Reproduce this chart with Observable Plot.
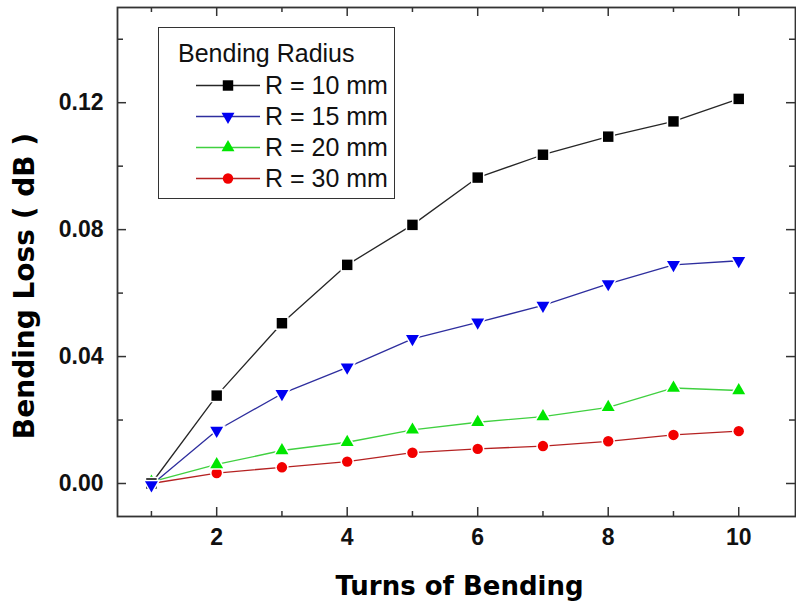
<!DOCTYPE html>
<html>
<head>
<meta charset="utf-8">
<script src="https://cdn.jsdelivr.net/npm/d3@7"></script>
<script src="https://cdn.jsdelivr.net/npm/@observablehq/plot@0.6"></script>
<style>
  html, body { margin: 0; padding: 0; background: #fff; }
  #wrap { position: relative; width: 796px; height: 606px; overflow: hidden; }
  #legend { position: absolute; left: 158px; top: 27px; width: 235px; height: 170px;
            border: 1.5px solid #333; background: #fff; font-family: "Liberation Sans", Arial, sans-serif; }
  #legend .title { position: absolute; left: 19px; top: 13px; font-size: 25px; line-height: 25px; color: #111; white-space: nowrap; }
  #legend .row { position: absolute; left: 37px; height: 31px; display: flex; align-items: center; white-space: nowrap; }
  #legend .row span { font-size: 25px; line-height: 25px; color: #111; margin-left: 5px; }
</style>
</head>
<body>
<div id="wrap"></div>
<script>
// ---- data ----
const turns = [1, 2, 3, 4, 5, 6, 7, 8, 9, 10];
const lossR10 = [0.0000, 0.0277, 0.0505, 0.0689, 0.0815, 0.0964, 0.1036, 0.1093, 0.1141, 0.1212];
const lossR15 = [-0.0005, 0.0167, 0.0283, 0.0366, 0.0456, 0.0508, 0.0561, 0.0629, 0.0689, 0.0702];
const lossR20 = [0.0005, 0.0060, 0.0104, 0.0130, 0.0169, 0.0193, 0.0211, 0.0240, 0.0301, 0.0293];
const lossR30 = [0.0000, 0.0033, 0.0051, 0.0069, 0.0097, 0.0109, 0.0118, 0.0133, 0.0153, 0.0165];
const seriesLabels = ["R = 10 mm", "R = 15 mm", "R = 20 mm", "R = 30 mm"];
const legendTitle = "Bending Radius";
const xMajorTicks = [2, 4, 6, 8, 10];
const xMinorTicks = [1, 3, 5, 7, 9];
const yMajorTicks = [0, 0.04, 0.08, 0.12];
const yMinorTicks = [0.02, 0.06, 0.10, 0.14];
const xLabel = "Turns of Bending";
const yLabel = "Bending Loss ( dB )";

// ---- styling ----
const lineColors = ["#262626", "#2e2e9e", "#40d040", "#b52222"];
const markerColors = ["#000000", "#0000f2", "#00e600", "#f20000"];
const markerSymbols = ["square", "triangle", "triangle", "circle"];
const markerRotate = [0, 180, 0, 0];
const markerR = [5.9, 4.8, 4.8, 5.2];
const markerDrawOrder = [3, 2, 0, 1];

const allSeries = [lossR10, lossR15, lossR20, lossR30];
const rows = allSeries.flatMap((vals, i) =>
  vals.map((v, j) => ({turns: turns[j], loss: v, series: seriesLabels[i]})));

const W = 796, H = 606;
const mL = 117, mR = 1, mT = 7, mB = 90;
const innerH = H - mT - mB;
const innerW = W - mL - mR;

const marks = [];
// series lines
seriesLabels.forEach((s, i) => {
  marks.push(Plot.line(rows.filter(d => d.series === s), {
    x: "turns", y: "loss", stroke: lineColors[i], strokeWidth: 1.3
  }));
});
// series markers
markerDrawOrder.forEach(i => {
  const s = seriesLabels[i];
  marks.push(Plot.dot(rows.filter(d => d.series === s), {
    x: "turns", y: "loss", symbol: markerSymbols[i], r: markerR[i],
    rotate: markerRotate[i], fill: markerColors[i],
    stroke: "white", strokeWidth: 3, paintOrder: "stroke"
  }));
});
// inward ticks (bottom, top, left, right)
marks.push(Plot.tickX(xMajorTicks, {x: d => d, stroke: "#333", strokeWidth: 1.5, insetTop: innerH - 9}));
marks.push(Plot.tickX(xMinorTicks, {x: d => d, stroke: "#333", strokeWidth: 1.5, insetTop: innerH - 5}));
marks.push(Plot.tickX(xMajorTicks, {x: d => d, stroke: "#333", strokeWidth: 1.5, insetBottom: innerH - 9}));
marks.push(Plot.tickX(xMinorTicks, {x: d => d, stroke: "#333", strokeWidth: 1.5, insetBottom: innerH - 5}));
marks.push(Plot.tickY(yMajorTicks, {y: d => d, stroke: "#333", strokeWidth: 1.5, insetRight: innerW - 9}));
marks.push(Plot.tickY(yMinorTicks, {y: d => d, stroke: "#333", strokeWidth: 1.5, insetRight: innerW - 6}));
marks.push(Plot.tickY(yMajorTicks, {y: d => d, stroke: "#333", strokeWidth: 1.5, insetLeft: innerW - 9}));
marks.push(Plot.tickY(yMinorTicks, {y: d => d, stroke: "#333", strokeWidth: 1.5, insetLeft: innerW - 6}));
// frame
marks.push(Plot.frame({stroke: "#333", strokeWidth: 1.8}));
// tick labels
marks.push(Plot.axisX({ticks: xMajorTicks, tickSize: 0, tickPadding: 12, label: null,
  fontSize: 23, fontWeight: "bold", fontFamily: "Liberation Sans, Arial, sans-serif", fill: "#111"}));
marks.push(Plot.axisY({ticks: yMajorTicks, tickSize: 0, tickPadding: 14, label: null,
  tickFormat: d3.format(".2f"),
  fontSize: 23, fontWeight: "bold", fontFamily: "Liberation Sans, Arial, sans-serif", fill: "#111"}));
// axis titles
marks.push(Plot.text([xLabel], {frameAnchor: "bottom", dx: 3, dy: 70, lineAnchor: "middle", textAnchor: "middle",
  fontSize: 26, fontWeight: "bold", fontFamily: "DejaVu Sans, sans-serif", fill: "#000"}));
marks.push(Plot.text([yLabel], {frameAnchor: "left", rotate: -90, dx: -92, dy: 24, lineAnchor: "middle", textAnchor: "middle",
  fontSize: 28, fontWeight: "bold", fontFamily: "DejaVu Sans, sans-serif", fill: "#000"}));

const chart = Plot.plot({
  width: W, height: H,
  marginLeft: mL, marginRight: mR, marginTop: mT, marginBottom: mB,
  x: {domain: [0.48, 10.87], axis: null},
  y: {domain: [-0.0104, 0.15], axis: null},
  style: {background: "white", overflow: "visible"},
  marks
});

const wrap = document.getElementById("wrap");
wrap.appendChild(chart);

// ---- legend (HTML overlay) ----
const legend = document.createElement("div");
legend.id = "legend";
const title = document.createElement("div");
title.className = "title";
title.textContent = legendTitle;
legend.appendChild(title);
const symMap = {square: d3.symbolSquare, triangle: d3.symbolTriangle, circle: d3.symbolCircle};
seriesLabels.forEach((s, i) => {
  const row = document.createElement("div");
  row.className = "row";
  row.style.top = (41.5 + i * 31) + "px";
  const svg = d3.create("svg").attr("width", 64).attr("height", 31);
  svg.append("line").attr("x1", 0).attr("x2", 64).attr("y1", 15.5).attr("y2", 15.5)
    .attr("stroke", lineColors[i]).attr("stroke-width", 1.3);
  svg.append("path")
    .attr("d", d3.symbol(symMap[markerSymbols[i]], markerR[i] * markerR[i] * Math.PI)())
    .attr("transform", `translate(32,15.5) rotate(${markerRotate[i]})`)
    .attr("fill", markerColors[i]);
  row.appendChild(svg.node());
  const t = document.createElement("span");
  t.textContent = s;
  row.appendChild(t);
  legend.appendChild(row);
});
wrap.appendChild(legend);
</script>
</body>
</html>
